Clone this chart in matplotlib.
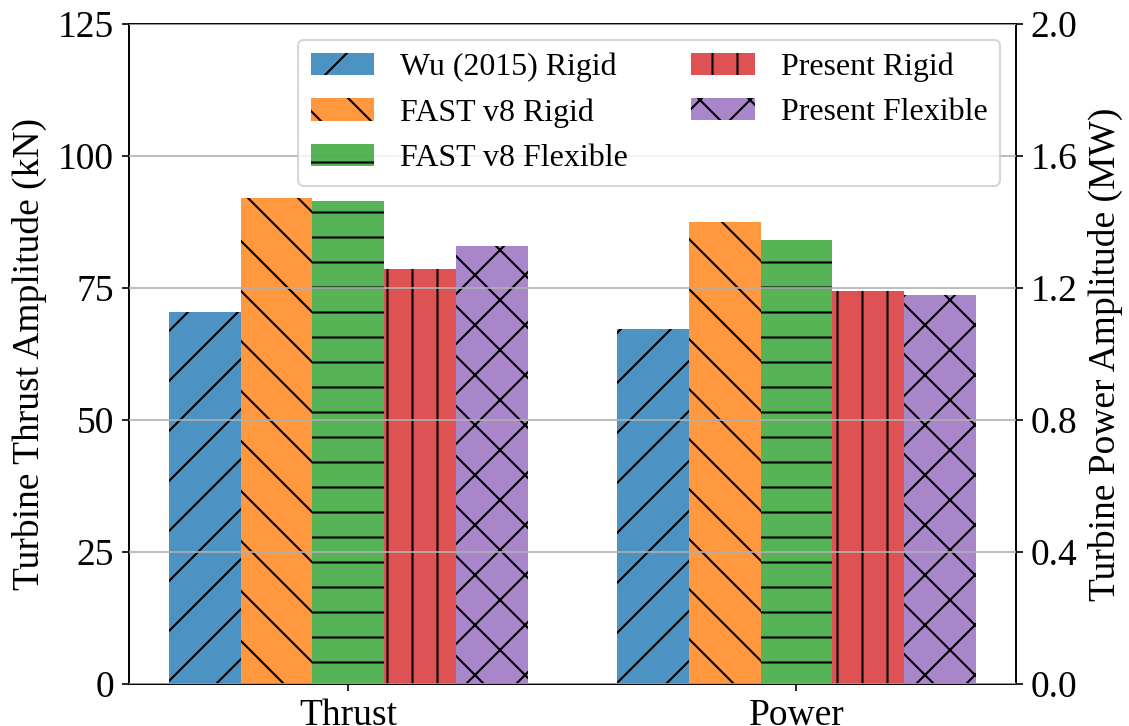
import matplotlib
matplotlib.use("Agg")
import matplotlib.pyplot as plt
import numpy as np

plt.rcParams['font.family'] = ['Liberation Serif', 'DejaVu Serif']

# Data
groups = ['Thrust', 'Power']
series = ['Wu (2015) Rigid', 'FAST v8 Rigid', 'FAST v8 Flexible',
          'Present Rigid', 'Present Flexible']
thrust_kN = [70.5, 92.0, 91.5, 78.5, 83.0]
power_MW = [1.076, 1.400, 1.346, 1.190, 1.180]

colors = ['tab:blue', 'tab:orange', 'tab:green', 'tab:red', 'tab:purple']
hatches = ['/', '\\', '-', '|', 'x']

fig = plt.figure(figsize=(1129 / 150, 726 / 150), dpi=150)
ax = fig.add_axes([0.114, 0.058, 0.786, 0.909])
ax2 = ax.twinx()

x = np.arange(len(groups))
width = 0.16
handles = []
for i in range(len(series)):
    offset = (i - 2) * width
    h = ax.bar(x[0] + offset, thrust_kN[i], width, color=colors[i],
               alpha=0.8, hatch=hatches[i], label=series[i])
    ax2.bar(x[1] + offset, power_MW[i], width, color=colors[i],
            alpha=0.8, hatch=hatches[i])
    handles.append(h)

ax.set_ylim(0, 125)
ax2.set_ylim(0, 2.0)
ax.set_yticks([0, 25, 50, 75, 100, 125])
ax2.set_yticks([0.0, 0.4, 0.8, 1.2, 1.6, 2.0])
ax.set_xticks(x)
ax.set_xticklabels(groups)

ax.set_ylabel('Turbine Thrust Amplitude (kN)', fontsize=18, labelpad=5)
ax2.set_ylabel('Turbine Power Amplitude (MW)', fontsize=18, labelpad=5)
ax.tick_params(axis='both', labelsize=18)
ax2.tick_params(axis='y', labelsize=18)

# grid on the twin axes so it sits over every bar
ax2.grid(axis='y', color='#b0b0b0', linewidth=0.8)
ax2.set_axisbelow(False)

ax2.legend(handles=handles, labels=series, loc='upper right', ncol=2,
           fontsize=15.3)

fig.savefig('out.png', dpi=150)
